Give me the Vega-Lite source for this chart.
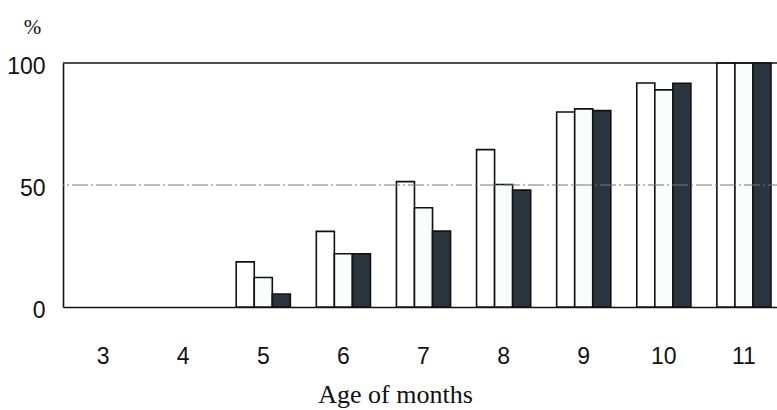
{
  "$schema": "https://vega.github.io/schema/vega-lite/v6.json",
  "autosize": {"type": "none"},
  "width": 721,
  "height": 244,
  "padding": {"left": 63, "top": 63, "right": 0, "bottom": 103},
  "background": "white",
  "config": {"view": {"stroke": null}},
  "layer": [
    {
      "data": {"values": [
        {"age": 3, "series": "A", "pct": 0}, {"age": 3, "series": "B", "pct": 0}, {"age": 3, "series": "C", "pct": 0},
        {"age": 4, "series": "A", "pct": 0}, {"age": 4, "series": "B", "pct": 0}, {"age": 4, "series": "C", "pct": 0},
        {"age": 5, "series": "A", "pct": 18.5}, {"age": 5, "series": "B", "pct": 12.1}, {"age": 5, "series": "C", "pct": 5.3},
        {"age": 6, "series": "A", "pct": 31}, {"age": 6, "series": "B", "pct": 21.8}, {"age": 6, "series": "C", "pct": 21.8},
        {"age": 7, "series": "A", "pct": 51.4}, {"age": 7, "series": "B", "pct": 40.7}, {"age": 7, "series": "C", "pct": 31.1},
        {"age": 8, "series": "A", "pct": 64.5}, {"age": 8, "series": "B", "pct": 50.2}, {"age": 8, "series": "C", "pct": 47.9},
        {"age": 9, "series": "A", "pct": 79.9}, {"age": 9, "series": "B", "pct": 81.2}, {"age": 9, "series": "C", "pct": 80.5},
        {"age": 10, "series": "A", "pct": 91.8}, {"age": 10, "series": "B", "pct": 89}, {"age": 10, "series": "C", "pct": 91.7},
        {"age": 11, "series": "A", "pct": 100}, {"age": 11, "series": "B", "pct": 100}, {"age": 11, "series": "C", "pct": 100}
      ]},
      "transform": [{"filter": "datum.pct > 0"}],
      "mark": {"type": "bar", "stroke": "#111111", "strokeWidth": 1.6},
      "encoding": {
        "x": {
          "field": "age", "type": "ordinal",
          "scale": {"domain": [3, 4, 5, 6, 7, 8, 9, 10, 11], "paddingInner": 0, "paddingOuter": 0},
          "axis": {
            "title": "Age of months",
            "titleFont": "Liberation Serif",
            "titleFontSize": 26,
            "titleFontWeight": "normal",
            "titleColor": "#111111",
            "titleX": 332,
            "titleY": 95,
            "titleAnchor": "middle",
            "titleBaseline": "alphabetic",
            "labelAngle": 0,
            "labelFont": "Liberation Sans",
            "labelFontSize": 23,
            "labelColor": "#111111",
            "labelPadding": 38,
            "ticks": false,
            "domain": true,
            "domainColor": "#111111",
            "domainWidth": 1.6
          }
        },
        "xOffset": {"field": "series", "type": "nominal", "scale": {"domain": ["A", "B", "C"], "paddingInner": 0, "paddingOuter": 0.72}},
        "y": {
          "field": "pct", "type": "quantitative",
          "scale": {"domain": [0, 100], "nice": false},
          "axis": {
            "values": [0, 50, 100],
            "title": "%",
            "titleAngle": 0,
            "titleFont": "Liberation Serif",
            "titleFontSize": 21,
            "titleFontWeight": "normal",
            "titleColor": "#111111",
            "titleX": -31,
            "titleY": -36,
            "titleAlign": "center",
            "titleBaseline": "middle",
            "labelFont": "Liberation Sans",
            "labelFontSize": 23,
            "labelColor": "#111111",
            "labelPadding": 18,
            "labelOffset": 3,
            "ticks": false,
            "grid": false,
            "domain": true,
            "domainColor": "#111111",
            "domainWidth": 1.6
          }
        },
        "fill": {
          "field": "series", "type": "nominal",
          "scale": {"domain": ["A", "B", "C"], "range": ["#ffffff", "#fbfdfd", "#2b3540"]},
          "legend": null
        }
      }
    },
    {
      "data": {"values": [{"ref": 50, "kind": "half"}]},
      "mark": {"type": "rule", "color": "#777777", "strokeWidth": 1, "strokeDash": [16, 3, 2, 3]},
      "encoding": {"y": {"field": "ref", "type": "quantitative"}}
    },
    {
      "data": {"values": [{"ref": 100, "kind": "top"}]},
      "mark": {"type": "rule", "color": "#111111", "strokeWidth": 1.6},
      "encoding": {"y": {"field": "ref", "type": "quantitative"}}
    }
  ]
}
